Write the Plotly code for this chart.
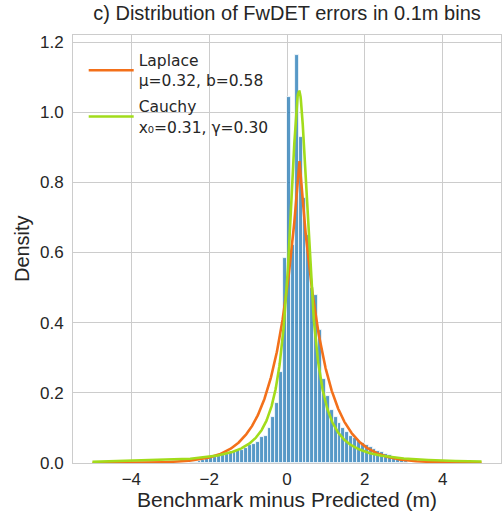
import numpy as np
import plotly.graph_objects as go

# Histogram of errors, 0.1 m bins (density), first bin starts at -2.5 m
bin_width = 0.1
bin_start = -2.5
density = [
    0.003, 0.004, 0.006, 0.008, 0.010,
    0.016, 0.018, 0.021, 0.024, 0.026, 0.030, 0.032, 0.036, 0.038, 0.043,
    0.050, 0.055, 0.060, 0.075, 0.077, 0.100, 0.130, 0.172, 0.260,
    0.585,
    1.044, 0.620, 1.163, 0.928, 0.755, 0.650, 0.500, 0.480, 0.380,
    0.240, 0.190, 0.150, 0.130, 0.115, 0.100, 0.088, 0.078, 0.070, 0.062,
    0.056, 0.050, 0.045, 0.040, 0.034, 0.030, 0.026, 0.022,
    0.018, 0.014, 0.010, 0.007,
]

# Fitted distribution parameters
laplace_mu, laplace_b = 0.32, 0.58
cauchy_x0, cauchy_gamma = 0.31, 0.30
curve_range = (-5.0, 5.0)

x_ticks = [-4, -2, 0, 2, 4]
y_ticks = [0.0, 0.2, 0.4, 0.6, 0.8, 1.0, 1.2]

centers = bin_start + bin_width * (np.arange(len(density)) + 0.5)

xs = np.linspace(curve_range[0], curve_range[1], 1200)
laplace_pdf = np.exp(-np.abs(xs - laplace_mu) / laplace_b) / (2 * laplace_b)
cauchy_pdf = 1.0 / (np.pi * cauchy_gamma * (1 + ((xs - cauchy_x0) / cauchy_gamma) ** 2))

TEXT = "#262626"
GRID = "#cccccc"
MAIN_FONT = "Liberation Sans, Arial, sans-serif"
LEG_FONT = "DejaVu Sans, sans-serif"

fig = go.Figure()
fig.add_trace(go.Bar(
    x=centers, y=density, width=bin_width,
    marker=dict(color="rgba(31,119,180,0.75)", line=dict(color="white", width=0.8)),
    showlegend=False, hoverinfo="skip",
))
fig.add_trace(go.Scatter(
    x=xs, y=laplace_pdf, mode="lines", legendgroup="laplace",
    line=dict(color="#f3701a", width=2.6),
    name=f"Laplace<br>μ={laplace_mu:.2f}, b={laplace_b:.2f}",
))
fig.add_trace(go.Scatter(
    x=xs, y=cauchy_pdf, mode="lines", legendgroup="cauchy",
    line=dict(color="#a2dc1b", width=2.6),
    name=f"Cauchy<br>x₀={cauchy_x0:.2f}, γ={cauchy_gamma:.2f}",
))

fig.update_layout(
    width=502, height=514,
    margin=dict(l=73, r=1, t=35, b=51),
    paper_bgcolor="white", plot_bgcolor="white",
    bargap=0,
    font=dict(family=MAIN_FONT, color=TEXT, size=17),
    title=dict(
        text="c) Distribution of FwDET errors in 0.1m bins",
        x=0.5, xref="paper", xanchor="center",
        y=1, yref="container", yanchor="top", pad=dict(t=6),
        font=dict(family=MAIN_FONT, size=20, color=TEXT),
    ),
    xaxis=dict(
        range=[-5.5, 5.5], tickvals=x_ticks,
        ticktext=[str(t).replace("-", "−") for t in x_ticks],
        showgrid=True, gridcolor=GRID, gridwidth=1,
        zeroline=False, showline=True, linecolor=GRID, linewidth=1, mirror=True,
        ticks="", ticklabelstandoff=1, tickfont=dict(size=17, color=TEXT),
    ),
    yaxis=dict(
        range=[0, 1.22], tickvals=y_ticks, ticktext=[f"{t:.1f}" for t in y_ticks],
        showgrid=True, gridcolor=GRID, gridwidth=1,
        zeroline=False, showline=True, linecolor=GRID, linewidth=1, mirror=True,
        ticks="", ticklabelstandoff=5, tickfont=dict(size=17, color=TEXT),
    ),
    legend=dict(
        x=0.025, y=0.98, xanchor="left", yanchor="top",
        bgcolor="rgba(0,0,0,0)", borderwidth=0,
        font=dict(family=LEG_FONT, size=15.5, color=TEXT),
        tracegroupgap=3, itemwidth=45,
    ),
    annotations=[
        dict(text="Benchmark minus Predicted (m)", xref="paper", yref="paper",
             x=0.5, y=-0.086, xanchor="center", yanchor="middle", showarrow=False,
             font=dict(family=MAIN_FONT, size=21, color=TEXT)),
        dict(text="Density", xref="paper", yref="paper", textangle=-90,
             x=-0.119, y=0.5, xanchor="center", yanchor="middle", showarrow=False,
             font=dict(family=MAIN_FONT, size=20, color=TEXT)),
    ],
)

fig.write_html("out.html")
